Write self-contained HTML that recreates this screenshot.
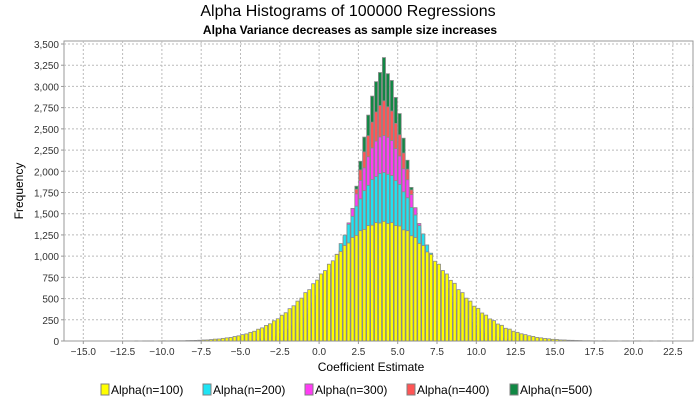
<!DOCTYPE html>
<html><head><meta charset="utf-8"><style>
body{margin:0;background:#fff;}
svg{display:block;font-family:"Liberation Sans",sans-serif;}
</style></head><body>
<svg id="chart" width="700" height="400" viewBox="0 0 700 400">
<text x="348" y="16" text-anchor="middle" font-size="16" fill="#000">Alpha Histograms of 100000 Regressions</text>
<text x="350" y="34" text-anchor="middle" font-size="12" font-weight="bold" fill="#000">Alpha Variance decreases as sample size increases</text>
<rect x="64" y="41" width="629" height="300" fill="#fff" stroke="#999"/>
<g id="grid"></g>
<g id="bars"></g>
<g id="axes"></g>
<text x="371" y="371" text-anchor="middle" font-size="12" fill="#000">Coefficient Estimate</text>
<text x="23" y="191" text-anchor="middle" font-size="12" fill="#000" transform="rotate(-90 23 191)">Frequency</text>
<g id="legend"></g>
</svg>
<script>
const seriesNames=["Alpha(n=100)","Alpha(n=200)","Alpha(n=300)","Alpha(n=400)","Alpha(n=500)"];
const seriesColors=["#ffff00","#1ee4f4","#ff3cf5","#ff5555","#118844"];
const binWidth=0.25;
const binStarts=[-12.0,-4.5,-4.0,-3.0,-2.5];
const alpha100=[0,1,0,1,1,1,0,1,2,1,2,2,3,3,5,6,7,9,12,13,17,22,24,31,37,42,53,61,75,84,102,115,139,155,183,203,238,262,304,333,381,415,470,505,570,605,675,718,790,830,905,945,1020,1055,1125,1155,1220,1245,1300,1315,1360,1365,1395,1390,1410,1385,1395,1360,1355,1310,1300,1240,1220,1150,1125,1050,1020,940,905,830,790,715,680,605,570,505,470,410,385,330,305,260,240,200,185,150,140,115,102,85,75,62,54,42,37,30,26,20,18,13,12,9,8,6,5,3,3,2,2,1,2,1,1,1,0,1,1,0,1,1,0,0,1,0,1,0,0];
const alpha200=[10,14,19,26,33,44,54,72,90,117,141,180,215,268,316,385,448,535,612,716,805,922,1022,1148,1248,1375,1470,1590,1675,1772,1835,1905,1938,1975,1985,1965,1950,1890,1846,1758,1688,1575,1485,1360,1262,1132,1035,910,815,705,620,525,455,377,322,262,220,175,145,113,92,70,56,42,35,24,20,13,10];
const alpha300=[2,4,6,9,13,19,26,36,48,67,90,120,157,205,266,335,421,520,636,765,908,1060,1222,1392,1563,1733,1892,2040,2171,2275,2355,2404,2420,2400,2362,2268,2180,2030,1900,1725,1570,1385,1230,1052,915,758,640,515,425,330,270,200,160,118,92,65,50,35,27,18,14,8,6,3,2];
const alpha400=[2,3,5,9,14,22,34,50,73,104,146,200,270,358,468,599,750,927,1123,1336,1562,1789,2016,2229,2419,2579,2699,2775,2830,2760,2710,2565,2430,2215,2025,1780,1570,1325,1130,920,755,592,472,352,275,196,149,101,75,48,35,21,15,8,5,3,2];
const alpha500=[2,3,5,8,13,20,32,50,77,115,170,242,336,461,614,797,1014,1264,1536,1824,2118,2403,2662,2886,3056,3164,3340,3150,3070,2870,2680,2390,2130,1810,1550,1250,1025,785,622,455,340,238,172,112,79,48,33,19,14,7,5,3,2];
const seriesValues=[alpha100,alpha200,alpha300,alpha400,alpha500];
const xTicks=[-15,-12.5,-10,-7.5,-5,-2.5,0,2.5,5,7.5,10,12.5,15,17.5,20,22.5];
const yTicks=[0,250,500,750,1000,1250,1500,1750,2000,2250,2500,2750,3000,3250,3500];

const NS="http://www.w3.org/2000/svg";
function xS(v){return 83.3+(v+15)*(39.3/2.5);}
function yS(v){return 341-v*(297/3500);}
function mk(t,a,p){const e=document.createElementNS(NS,t);for(const k in a)e.setAttribute(k,a[k]);p.appendChild(e);return e;}
const grid=document.getElementById('grid'),axes=document.getElementById('axes'),bars=document.getElementById('bars'),legend=document.getElementById('legend');
yTicks.forEach(v=>{
  const y=yS(v);
  if(v>0){const g=mk('line',{x1:64,x2:693,y1:y,y2:y,stroke:'#bbb','stroke-dasharray':'2,2'},grid);
  
  }
  const t=mk('text',{x:59,y:y+4,'text-anchor':'end','font-size':'10',fill:'#333'},axes);
  t.textContent=v.toLocaleString('en-US');
  
  
  mk('line',{x1:61,x2:64,y1:y,y2:y,stroke:'#999'},axes);
});
xTicks.forEach(v=>{
  const x=xS(v);
  const g=mk('line',{x1:x,x2:x,y1:41,y2:341,stroke:'#bbb','stroke-dasharray':'2,2'},grid);
  
  
  mk('line',{x1:x,x2:x,y1:341,y2:344,stroke:'#999'},axes);
  const t=mk('text',{x:x,y:355,'text-anchor':'middle','font-size':'10',fill:'#333'},axes);
  t.textContent=(v<0?'\u2212':'')+Math.abs(v).toFixed(1);
  
  
});
for(let s=4;s>=0;s--){
  const vals=seriesValues[s];
  vals.forEach((v,i)=>{
    if(v<=0)return;
    const x0=xS(binStarts[s]+i*binWidth),x1=xS(binStarts[s]+(i+1)*binWidth);
    const r=mk('rect',{x:x0+0.4,y:yS(v),width:x1-x0-0.8,height:yS(0)-yS(v),fill:seriesColors[s],stroke:'#8a8a8a','stroke-width':0.8},bars);
    
    
  });
}
const legendX=[101,203,305,407,510];
seriesNames.forEach((n,i)=>{
  const r=mk('rect',{x:legendX[i],y:384,width:8,height:11,fill:seriesColors[i],stroke:'#808080'},legend);
  
  
  const t=mk('text',{x:legendX[i]+10,y:394,'font-size':'12',fill:'#000'},legend);
  t.textContent=n;
  
  
});
</script>
</body></html>
